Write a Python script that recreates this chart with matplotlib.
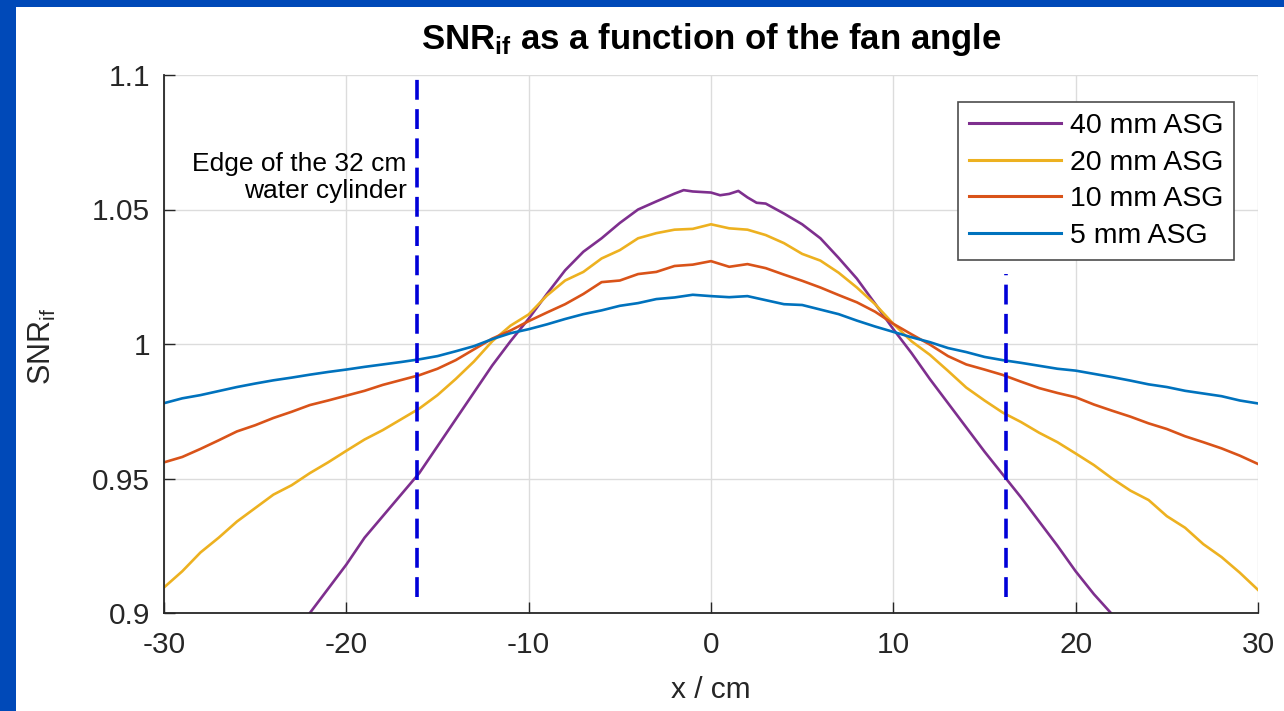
import matplotlib
matplotlib.use("Agg")
import matplotlib.pyplot as plt
from matplotlib.patches import Rectangle

plt.rcParams["font.family"] = ["Liberation Sans", "DejaVu Sans"]
plt.rcParams["mathtext.fontset"] = "custom"
plt.rcParams["mathtext.rm"] = "Liberation Sans"
plt.rcParams["mathtext.it"] = "Liberation Sans"
plt.rcParams["mathtext.bf"] = "Liberation Sans:bold"

# fan position in cm
x_cm = list(range(-30, 31))

# 40 mm grid only shows inside the y-range, so it gets its own (finer in the middle) x
x_40 = [-22, -21, -20, -19, -18, -17, -16, -15, -14, -13, -12, -11, -10, -9, -8,
        -7, -6, -5, -4, -3, -2, -1.5, -1, -0.5, 0, 0.5, 1, 1.5, 2, 2.5, 3,
        4, 5, 6, 7, 8, 9, 10, 11, 12, 13, 14, 15, 16, 17, 18, 19, 20, 21, 22]
snr_40mm = [0.900, 0.909, 0.918, 0.928, 0.936, 0.944, 0.952, 0.962, 0.972, 0.982,
            0.992, 1.001, 1.0094, 1.0186, 1.0274, 1.0343, 1.0393, 1.045, 1.050,
            1.053, 1.0559, 1.0572, 1.0567, 1.0565, 1.0563, 1.0553, 1.0558, 1.0569,
            1.0545, 1.0525, 1.0522, 1.0485, 1.0445, 1.0393, 1.032, 1.0243, 1.015,
            1.0055, 0.9966, 0.987, 0.978, 0.969, 0.960, 0.9515, 0.943, 0.934,
            0.925, 0.9155, 0.907, 0.8995]

snr_20mm = [0.9095, 0.9155, 0.9225, 0.928, 0.934, 0.939, 0.944, 0.9475, 0.952, 0.956,
            0.9603, 0.9645, 0.968, 0.972, 0.976, 0.981, 0.987, 0.9935, 1.001, 1.0068,
            1.011, 1.018, 1.0236, 1.0268, 1.0318, 1.0349, 1.0393, 1.0412, 1.0425, 1.0428,
            1.0445, 1.043, 1.0425, 1.0405, 1.0375, 1.0335, 1.031, 1.0265, 1.021, 1.0148,
            1.0075, 1.001, 0.996, 0.990, 0.9838, 0.979, 0.9745, 0.971, 0.967, 0.9635,
            0.9593, 0.955, 0.950, 0.9455, 0.942, 0.936, 0.9317, 0.9256, 0.9208, 0.915,
            0.9086]

snr_10mm = [0.956, 0.958, 0.961, 0.9642, 0.9675, 0.9698, 0.9725, 0.9748, 0.9773, 0.979,
            0.9808, 0.9826, 0.9848, 0.9866, 0.9884, 0.9908, 0.994, 0.998, 1.002, 1.005,
            1.0085, 1.0117, 1.0148, 1.0186, 1.023, 1.0236, 1.026, 1.0268, 1.029, 1.0295,
            1.0308, 1.0287, 1.0297, 1.0282, 1.0258, 1.0235, 1.021, 1.0182, 1.0155, 1.012,
            1.0075, 1.0036, 0.9998, 0.9955, 0.9924, 0.9905, 0.9885, 0.986, 0.9836, 0.9818,
            0.9802, 0.9775, 0.9752, 0.973, 0.9705, 0.9684, 0.9657, 0.9635, 0.9612, 0.9585,
            0.9554]

snr_5mm = [0.978, 0.9798, 0.981, 0.9825, 0.984, 0.9853, 0.9865, 0.9875, 0.9886, 0.9896,
           0.9905, 0.9915, 0.9924, 0.9933, 0.9943, 0.9955, 0.9973, 0.9992, 1.0018, 1.004,
           1.0055, 1.0073, 1.0093, 1.0111, 1.0125, 1.0142, 1.0152, 1.0167, 1.0173, 1.0183,
           1.0178, 1.0174, 1.0178, 1.0163, 1.0148, 1.0145, 1.0128, 1.0111, 1.0087, 1.0065,
           1.0045, 1.0025, 1.0007, 0.9985, 0.997, 0.9952, 0.994, 0.993, 0.9919, 0.9908,
           0.9901, 0.9889, 0.9877, 0.9864, 0.985, 0.984, 0.9826, 0.9816, 0.9806, 0.979,
           0.9779]

labels = ["40 mm ASG", "20 mm ASG", "10 mm ASG", "5 mm ASG"]
colors = ["#7E2F8E", "#EDB120", "#D95319", "#0072BD"]

# water cylinder edge markers
edge_x = [-16.1, 16.2]
edge_top = [1.099, 1.026]
edge_bottom = 0.906

x_ticks = [-30, -20, -10, 0, 10, 20, 30]
y_ticks = [0.9, 0.95, 1.0, 1.05, 1.1]
y_ticklabels = ["0.9", "0.95", "1", "1.05", "1.1"]

W, H = 1284, 711
fig = plt.figure(figsize=(W / 100, H / 100), dpi=100)
fig.patch.set_facecolor("#0049B8")
fig.patches.append(Rectangle((16 / W, 0), 1 - 16 / W, 1 - 7 / H,
                             transform=fig.transFigure, facecolor="white",
                             edgecolor="none", zorder=-10))

ax = fig.add_axes([164 / W, 98 / H, 1094 / W, 538 / H])
ax.set_facecolor("white")

series = [(x_40, snr_40mm), (x_cm, snr_20mm), (x_cm, snr_10mm), (x_cm, snr_5mm)]
for (xs, ys), lab, col in zip(series, labels, colors):
    ax.plot(xs, ys, color=col, lw=1.9, label=lab)

for xe, yt in zip(edge_x, edge_top):
    ax.plot([xe, xe], [edge_bottom, yt], color="#0000D8", lw=2.6,
            linestyle=(0, (5.5, 2.6)))

ax.text(-16.7, 1.0618, "Edge of the 32 cm\nwater cylinder", ha="right", va="center",
        fontsize=19, linespacing=1.15, color="black")

ax.set_xlim(-30, 30)
ax.set_ylim(0.9, 1.1)
ax.set_xticks(x_ticks)
ax.set_xticklabels([str(t) for t in x_ticks])
ax.set_yticks(y_ticks)
ax.set_yticklabels(y_ticklabels)
ax.tick_params(direction="in", length=8, width=1, colors="#262626",
               labelsize=21.5, labelcolor="#262626")
ax.tick_params(axis="y", pad=10)
ax.tick_params(axis="x", pad=13)
ax.grid(True, color="#dcdcdc", lw=1)
ax.set_axisbelow(True)
for side in ["top", "right"]:
    ax.spines[side].set_visible(False)
for side in ["left", "bottom"]:
    ax.spines[side].set_color("#262626")
    ax.spines[side].set_linewidth(1.3)

leg = ax.legend(loc="upper right", bbox_to_anchor=(0.978, 0.95), borderaxespad=0,
                fontsize=20.5, handlelength=3.25, handletextpad=0.3,
                labelspacing=0.38, borderpad=0.38, fancybox=False, framealpha=1)
leg.get_frame().set_edgecolor("#4d4d4d")
leg.get_frame().set_linewidth(1.2)
for line in leg.get_lines():
    line.set_linewidth(2.2)

fig.text(711 / W, 1 - 49 / H, r"SNR$_{\mathbf{if}}$ as a function of the fan angle",
         ha="center", va="baseline", fontsize=25, fontweight="bold")
fig.text(42 / W, 1 - 346 / H, r"SNR$_{\mathrm{if}}$", rotation=90,
         ha="center", va="center", fontsize=22, color="#262626")
fig.text(711 / W, 1 - 690 / H, "x / cm", ha="center", va="center",
         fontsize=21.5, color="#262626")

fig.savefig("out.png", dpi=100)
